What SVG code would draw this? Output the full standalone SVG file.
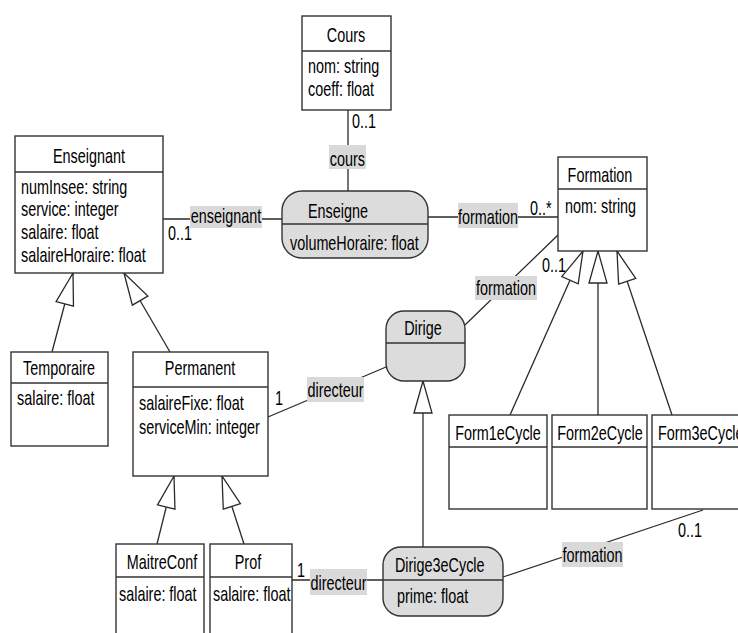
<svg xmlns="http://www.w3.org/2000/svg" width="738" height="633" viewBox="0 0 738 633">
<style>
.bg{fill:#ffffff}
.box{fill:#ffffff;stroke:#333333;stroke-width:1.4}
.rbox{fill:#dcdcdc;stroke:#333333;stroke-width:1.4}
.div{stroke:#333333;stroke-width:1.4}
.ln{stroke:#2a2a2a;stroke-width:1.3;fill:none}
.gen{stroke:#2a2a2a;stroke-width:1.3;fill:none;marker-end:url(#tri)}
.lb{fill:#d9d9d9}
.t{font-family:"Liberation Sans",Arial,Helvetica,sans-serif;font-size:20px;fill:#000000;transform:scaleX(0.72);transform-origin:0 0}
.m{text-anchor:middle}
</style>
<defs>
<marker id="tri" markerUnits="userSpaceOnUse" markerWidth="34" markerHeight="20" viewBox="-1 -1 34 20" refX="32" refY="9" orient="auto" overflow="visible">
<path d="M0,0 L32,9 L0,18 Z" fill="#ffffff" stroke="#2a2a2a" stroke-width="1.3"/>
</marker>
</defs>
<rect class="bg" x="0" y="0" width="738" height="633"/>
<g id="connectors">
<line class="ln" x1="348" y1="110" x2="348" y2="191"/>
<rect class="lb" x="329" y="145" width="37" height="24"/>
<text class="t m" x="482.6" y="166">cours</text>
<text class="t" x="488.9" y="128">0..1</text>

<line class="ln" x1="163" y1="219" x2="282" y2="219"/>
<rect class="lb" x="190" y="206" width="72" height="22"/>
<text class="t m" x="313.9" y="223">enseignant</text>
<text class="t" x="233.3" y="240">0..1</text>

<line class="ln" x1="428" y1="217" x2="558" y2="217"/>
<rect class="lb" x="458" y="203" width="60" height="25"/>
<text class="t m" x="677.8" y="224">formation</text>
<text class="t" x="736.1" y="215">0..*</text>

<line class="ln" x1="558" y1="235" x2="465" y2="325"/>
<rect class="lb" x="475" y="276" width="62" height="24"/>
<text class="t m" x="702.8" y="295">formation</text>
<text class="t" x="752.8" y="272">0..1</text>

<line class="ln" x1="268" y1="417" x2="386" y2="367"/>
<rect class="lb" x="307" y="377" width="57" height="25"/>
<text class="t m" x="466.0" y="397">directeur</text>
<text class="t" x="381.9" y="405">1</text>

<line class="ln" x1="292" y1="580" x2="383" y2="580"/>
<rect class="lb" x="310" y="569" width="57" height="26"/>
<text class="t m" x="470.1" y="590">directeur</text>
<text class="t" x="412.5" y="577">1</text>

<line class="ln" x1="703" y1="510" x2="503" y2="577"/>
<rect class="lb" x="562" y="542" width="61" height="25"/>
<text class="t m" x="822.9" y="562">formation</text>
<text class="t" x="941.7" y="537">0..1</text>

<line class="gen" x1="52" y1="352" x2="73" y2="273"/>
<line class="gen" x1="170" y1="352" x2="124" y2="273"/>
<line class="gen" x1="157" y1="544" x2="174" y2="476"/>
<line class="gen" x1="244" y1="544" x2="222" y2="476"/>
<line class="gen" x1="423" y1="547" x2="423" y2="381"/>
<line class="gen" x1="510" y1="415" x2="583" y2="251"/>
<line class="gen" x1="598" y1="415" x2="598" y2="251"/>
<line class="gen" x1="672" y1="415" x2="617" y2="251"/>
</g>

<g id="Cours">
<rect class="box" x="302" y="16" width="89" height="94"/>
<line class="div" x1="302" y1="51" x2="391" y2="51"/>
<text class="t m" x="480.6" y="42">Cours</text>
<text class="t" x="427.8" y="73">nom: string</text>
<text class="t" x="427.8" y="96">coeff: float</text>
</g>

<g id="Enseignant">
<rect class="box" x="15" y="136" width="148" height="137"/>
<line class="div" x1="15" y1="172" x2="163" y2="172"/>
<text class="t m" x="123.6" y="163">Enseignant</text>
<text class="t" x="29.2" y="194">numInsee: string</text>
<text class="t" x="29.2" y="216">service: integer</text>
<text class="t" x="29.2" y="239">salaire: float</text>
<text class="t" x="29.2" y="262">salaireHoraire: float</text>
</g>

<g id="Enseigne">
<rect class="rbox" x="282" y="191" width="146" height="67" rx="20" ry="20"/>
<line class="div" x1="282" y1="224" x2="428" y2="224"/>
<text class="t m" x="469.4" y="218">Enseigne</text>
<text class="t" x="402.8" y="250">volumeHoraire: float</text>
</g>

<g id="Formation">
<rect class="box" x="558" y="157" width="89" height="94"/>
<line class="div" x1="558" y1="189" x2="647" y2="189"/>
<text class="t m" x="833.3" y="182">Formation</text>
<text class="t" x="784.7" y="213">nom: string</text>
</g>

<g id="Temporaire">
<rect class="box" x="11" y="352" width="97" height="94"/>
<line class="div" x1="11" y1="383" x2="108" y2="383"/>
<text class="t m" x="81.9" y="375">Temporaire</text>
<text class="t" x="23.6" y="405">salaire: float</text>
</g>

<g id="Permanent">
<rect class="box" x="133" y="352" width="135" height="124"/>
<line class="div" x1="133" y1="387" x2="268" y2="387"/>
<text class="t m" x="277.8" y="375">Permanent</text>
<text class="t" x="193.1" y="410">salaireFixe: float</text>
<text class="t" x="193.1" y="434">serviceMin: integer</text>
</g>

<g id="Dirige">
<rect class="rbox" x="386" y="311" width="79" height="70" rx="18" ry="18"/>
<line class="div" x1="386" y1="343" x2="465" y2="343"/>
<text class="t m" x="587.5" y="335">Dirige</text>
</g>

<g id="Form1eCycle">
<rect class="box" x="449" y="415" width="98" height="94"/>
<line class="div" x1="449" y1="447" x2="547" y2="447"/>
<text class="t m" x="691.7" y="440">Form1eCycle</text>
</g>

<g id="Form2eCycle">
<rect class="box" x="552" y="415" width="95" height="94"/>
<line class="div" x1="552" y1="447" x2="647" y2="447"/>
<text class="t m" x="833.3" y="440">Form2eCycle</text>
</g>

<g id="Form3eCycle">
<rect class="box" x="652" y="415" width="98" height="94"/>
<line class="div" x1="652" y1="447" x2="750" y2="447"/>
<text class="t" x="913.9" y="440">Form3eCycle</text>
</g>

<g id="MaitreConf">
<rect class="box" x="116" y="544" width="88" height="100"/>
<line class="div" x1="116" y1="577" x2="204" y2="577"/>
<text class="t m" x="225.0" y="569">MaitreConf</text>
<text class="t" x="165.3" y="601">salaire: float</text>
</g>

<g id="Prof">
<rect class="box" x="210" y="544" width="82" height="100"/>
<line class="div" x1="210" y1="577" x2="292" y2="577"/>
<text class="t m" x="344.4" y="569">Prof</text>
<text class="t" x="295.8" y="601">salaire: float</text>
</g>

<g id="Dirige3eCycle">
<rect class="rbox" x="383" y="547" width="120" height="69" rx="18" ry="18"/>
<line class="div" x1="383" y1="580" x2="503" y2="580"/>
<text class="t" x="548.6" y="572">Dirige3eCycle</text>
<text class="t" x="551.4" y="603">prime: float</text>
</g>
</svg>
